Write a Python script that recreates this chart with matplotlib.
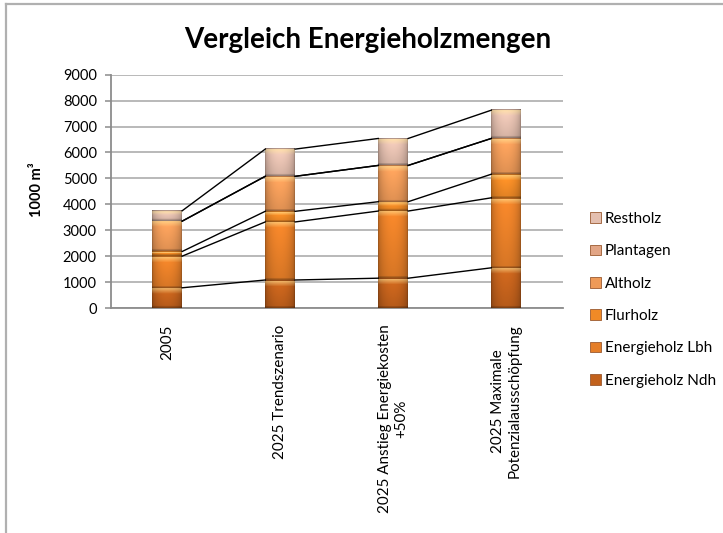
import numpy as np
import matplotlib
matplotlib.use("Agg")
import matplotlib.pyplot as plt
from matplotlib.colors import to_rgb
from matplotlib.patches import Patch
from matplotlib.lines import Line2D

plt.rcParams['font.family'] = ['Lato', 'DejaVu Sans']

categories = ["2005", "2025 Trendszenario", "2025 Anstieg Energiekosten\n+50%",
              "2025 Maximale\nPotenzialausschöpfung"]
series_names = ["Energieholz Ndh", "Energieholz Lbh", "Flurholz", "Altholz", "Plantagen", "Restholz"]
ndh = [780, 1080, 1150, 1550]
lbh = [1220, 2240, 2590, 2700]
flurholz = [180, 410, 360, 910]
altholz = [1170, 1350, 1400, 1380]
plantagen = [0, 0, 0, 0]
restholz = [400, 1050, 1040, 1090]
series_values = [ndh, lbh, flurholz, altholz, plantagen, restholz]
colors = ['#C2611C', '#E57E28', '#F08A26', '#EE9A58', '#E2A585', '#E4BFAF']
yticks = [0, 1000, 2000, 3000, 4000, 5000, 6000, 7000, 8000, 9000]

W, H = 723, 533
fig = plt.figure(figsize=(W / 100, H / 100), dpi=100)
ax = fig.add_axes([110.7 / W, 1 - 308 / H, (562.7 - 110.7) / W, (308 - 74.7) / H])

x = np.arange(len(categories))
bw = 0.265
ax.set_xlim(-0.5, len(categories) - 0.5)
ax.set_ylim(0, 9000)

grid_c = '#A6A6A6'
ax.set_yticks(yticks)
ax.yaxis.grid(True, color=grid_c, lw=1.1, zorder=0)
ax.set_axisbelow(True)
for s in ['top', 'right']:
    ax.spines[s].set_visible(False)
ax.spines['left'].set_color('#8C8C8C')
ax.spines['bottom'].set_color('#8C8C8C')
ax.spines['left'].set_linewidth(1.3)
ax.spines['bottom'].set_linewidth(1.3)
ax.tick_params(axis='y', length=4, color='#8C8C8C', width=1.1, pad=6, labelsize=10.5)
ax.tick_params(axis='x', length=0, pad=12, labelsize=10.9)
ax.set_xticks(x)
ax.set_xticklabels(categories, rotation=90, va='top', ha='center', multialignment='center')


def shade(rect, color):
    x0, y0 = rect.get_x(), rect.get_y()
    w, h = rect.get_width(), rect.get_height()
    if h <= 0:
        return
    p0 = ax.transData.transform((x0, y0))
    p1 = ax.transData.transform((x0 + w, y0 + h))
    nr = max(int(round(p1[1] - p0[1])), 3)
    nc = max(int(round(p1[0] - p0[0])), 3)
    base = np.array(to_rgb(color))
    xs = np.linspace(0, 1, nc)
    horiz = 0.70 + 0.32 * np.sin(np.pi * xs) ** 0.45
    ys = np.linspace(0, 1, nr)
    vert = 1.08 - 0.16 * ys
    img = base[None, None, :] * horiz[None, :, None] * vert[:, None, None]
    hl = np.array([1.0, 0.9, 0.6])
    k = min(5, max(1, nr // 3))
    for r in range(1, k + 1):
        a = 0.55 * (1 - (r - 1) / k)
        img[r] = img[r] * (1 - a) + hl * a * horiz[:, None] ** 0.5
    img[0] = img[0] * 0.72
    img[-1] = img[-1] * 0.72
    if nr > 4:
        img[-2] = img[-2] * 0.85
    img = np.clip(img, 0, 1)
    ax.imshow(img, extent=(x0, x0 + w, y0, y0 + h), origin='upper', aspect='auto',
              interpolation='bilinear', zorder=3)


bottom = np.zeros(len(categories))
tops = []
for name, vals, c in zip(series_names, series_values, colors):
    vals = np.array(vals, dtype=float)
    bars = ax.bar(x, vals, bw, bottom=bottom, color=c, zorder=2, linewidth=0)
    for b in bars:
        shade(b, c)
    bottom = bottom + vals
    tops.append(bottom.copy())

# series lines
for t in tops:
    for i in range(len(categories) - 1):
        ax.plot([x[i] + bw / 2, x[i + 1] - bw / 2], [t[i], t[i + 1]], color='black', lw=1.0, zorder=4)

ax.set_xlim(-0.5, len(categories) - 0.5)
ax.set_ylim(0, 9000)

fig.text(0.5 * (183 + 553) / W, 1 - 40 / H, "Vergleich Energieholzmengen", fontsize=20,
         fontweight='bold', ha='center', va='center')
fig.text(37 / W, 1 - 190 / H, "1000 m³", rotation=90, fontsize=10.5, fontweight='bold',
         ha='center', va='center')

handles = [Patch(facecolor=c, edgecolor='#9A5A30', linewidth=0.6) for c in colors][::-1]
labels = series_names[::-1]
fig.legend(handles, labels, loc='upper left', bbox_to_anchor=(590 / W, 1 - 212 / H),
           frameon=False, fontsize=11, handlelength=0.72, handleheight=0.72,
           handletextpad=0.25, labelspacing=1.2, borderpad=0, borderaxespad=0)

# chart frame
fig.add_artist(Line2D([6 / W, 1], [1 - 4 / H, 1 - 4 / H], transform=fig.transFigure,
                      color='#B0B0B0', lw=1.6))
fig.add_artist(Line2D([6 / W, 6 / W], [0, 1 - 4 / H], transform=fig.transFigure,
                      color='#B0B0B0', lw=1.6))

fig.savefig("out.png", dpi=100)
